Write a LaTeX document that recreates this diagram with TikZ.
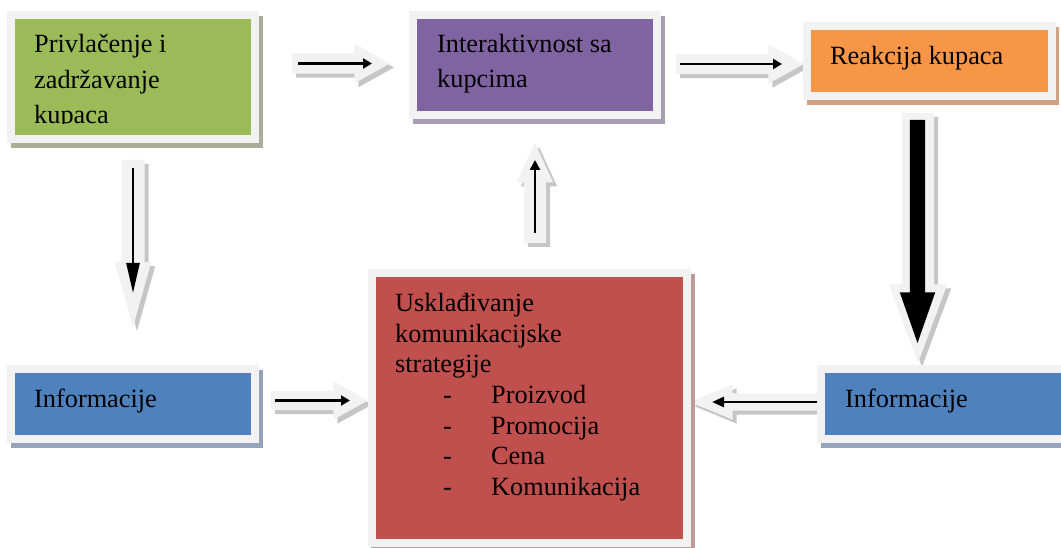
\documentclass[tikz,border=0pt]{standalone}
\usepackage{fontspec}
\setmainfont{Liberation Serif}
\usetikzlibrary{shapes.arrows,arrows.meta}

\definecolor{framegray}{HTML}{F2F2F2}
\definecolor{arrowshade}{HTML}{C6C6C6}
\definecolor{boxgreen}{HTML}{9BBB59}
\definecolor{shgreen}{HTML}{A7B096}
\definecolor{boxpurple}{HTML}{8064A2}
\definecolor{shpurple}{HTML}{A69CB3}
\definecolor{boxorange}{HTML}{F79646}
\definecolor{shorange}{HTML}{CFA383}
\definecolor{boxblue}{HTML}{4F81BD}
\definecolor{shblue}{HTML}{95A4BA}
\definecolor{boxred}{HTML}{C0504D}
\definecolor{shred}{HTML}{BE9A9A}

\tikzset{
  framebox/.style 2 args={draw=framegray, line width=8pt, fill=#1,
    preaction={draw=#2, fill=#2, transform canvas={shift={(3.5pt,-5pt)}}},
    inner sep=0pt, outer sep=0pt},
  % shaft half width is given as the argument
  blockarrow/.style={single arrow, fill=framegray, draw=none,
    inner xsep=0pt, inner ysep=#1, outer sep=0pt, anchor=tail,
    preaction={fill=arrowshade, transform canvas={shift={(4pt,-4pt)}}}},
  pointer/.style={line width=2.6pt, black},
  boxtext/.style={font=\fontsize{26.3}{30}\selectfont, inner sep=0pt,
    anchor=base west, text=black}
}

\begin{document}
\begin{tikzpicture}[x=1pt, y=-1pt]
\useasboundingbox (0,0) rectangle (1061,548);
\clip (0,0) rectangle (1061,548);

% block arrows (drawn first, the boxes lie over their ends)
\node[blockarrow=10pt, minimum height=98pt,
  single arrow head extend=9.5pt, single arrow tip angle=58] (a1) at (292,63.5) {};
\node[blockarrow=10pt, minimum height=128pt,
  single arrow head extend=9.5pt, single arrow tip angle=58] (a2) at (676,64) {};
\node[blockarrow=9.5pt, minimum height=97pt,
  single arrow head extend=9.5pt, single arrow tip angle=58] (a6) at (271,400.5) {};
\node[blockarrow=8.5pt, rotate=180, minimum height=135pt,
  single arrow head extend=9pt, single arrow tip angle=45] (a7) at (825,402) {};
\node[blockarrow=11pt, rotate=90, minimum height=100pt,
  single arrow head extend=7pt, single arrow tip angle=49.5] (a3) at (535,243) {};
\node[blockarrow=11.5pt, rotate=-90, minimum height=167pt,
  single arrow head extend=6.5pt, single arrow tip angle=31.4] (a4) at (133,160) {};
\node[blockarrow=16pt, rotate=-90, minimum height=250pt,
  single arrow head extend=13pt, single arrow tip angle=40.8] (a5) at (918,113) {};

% black pointers inside the block arrows
\draw[pointer, shorten <=6pt, shorten >=18pt, -{Triangle[length=9pt,width=10pt]}] (a1.tail) -- (a1.tip);
\draw[pointer, shorten <=4pt, shorten >=22pt, -{Triangle[length=9pt,width=10pt]}] (a2.tail) -- (a2.tip);
\draw[pointer, shorten <=4pt, shorten >=18pt, -{Triangle[length=9pt,width=10pt]}] (a6.tail) -- (a6.tip);
\draw[pointer, shorten <=8pt, shorten >=22pt, -{Triangle[length=12pt,width=10pt]}] (a7.tail) -- (a7.tip);
\draw[pointer, shorten <=10pt, shorten >=17pt, -{Triangle[length=10pt,width=10pt]}] (a3.tail) -- (a3.tip);
\draw[pointer, shorten <=8pt, shorten >=34pt, -{Triangle[length=30pt,width=13pt]}] (a4.tail) -- (a4.tip);
\node[single arrow, fill=black, draw=none, inner xsep=0pt, inner ysep=7.5pt, outer sep=0pt,
  anchor=tail, rotate=-90, minimum height=223pt,
  single arrow head extend=10pt, single arrow tip angle=38.6] (a5in) at (917.5,120) {};

% boxes
\node[framebox={boxgreen}{shgreen}, minimum width=244pt, minimum height=124pt] (privl) at (133,77) {};
\node[framebox={boxpurple}{shpurple}, minimum width=244pt, minimum height=100pt] (inter) at (535,65) {};
\node[framebox={boxorange}{shorange}, minimum width=244.5pt, minimum height=70pt] (reak) at (929.25,61) {};
\node[framebox={boxblue}{shblue}, minimum width=244pt, minimum height=70pt] (infl) at (133,403.5) {};
\node[framebox={boxblue}{shblue}, minimum width=280pt, minimum height=70pt] (infr) at (961,403.5) {};
\node[framebox={boxred}{shred}, minimum width=315.5pt, minimum height=269.5pt] (uskl) at (529.25,408.25) {};

% texts
\begin{scope}
  \clip (15,19) rectangle (251,124);
  \node[boxtext] (t1) at (34,53) {Privlačenje i};
  \node[boxtext] (t2) at (34,88.5) {zadržavanje};
  \node[boxtext] (t3) at (34,124) {kupaca};
\end{scope}
\node[boxtext] (t4) at (437,53) {Interaktivnost sa};
\node[boxtext] (t5) at (437,88) {kupcima};
\node[boxtext] (t6) at (830,65) {Reakcija kupaca};
\node[boxtext] (t7) at (34,407) {Informacije};
\node[boxtext] (t8) at (845,407) {Informacije};
\node[boxtext] (t9) at (395,312) {Usklađivanje};
\node[boxtext] (t10) at (395,342) {komunikacijske};
\node[boxtext] (t11) at (395,372) {strategije};
\foreach \y/\item [count=\i] in {403/Proizvod, 434.5/Promocija, 464/Cena, 495/Komunikacija}{
  \node[boxtext] (d\i) at (443,\y) {-};
  \node[boxtext] (it\i) at (491,\y) {\item};
}
\end{tikzpicture}
\end{document}
